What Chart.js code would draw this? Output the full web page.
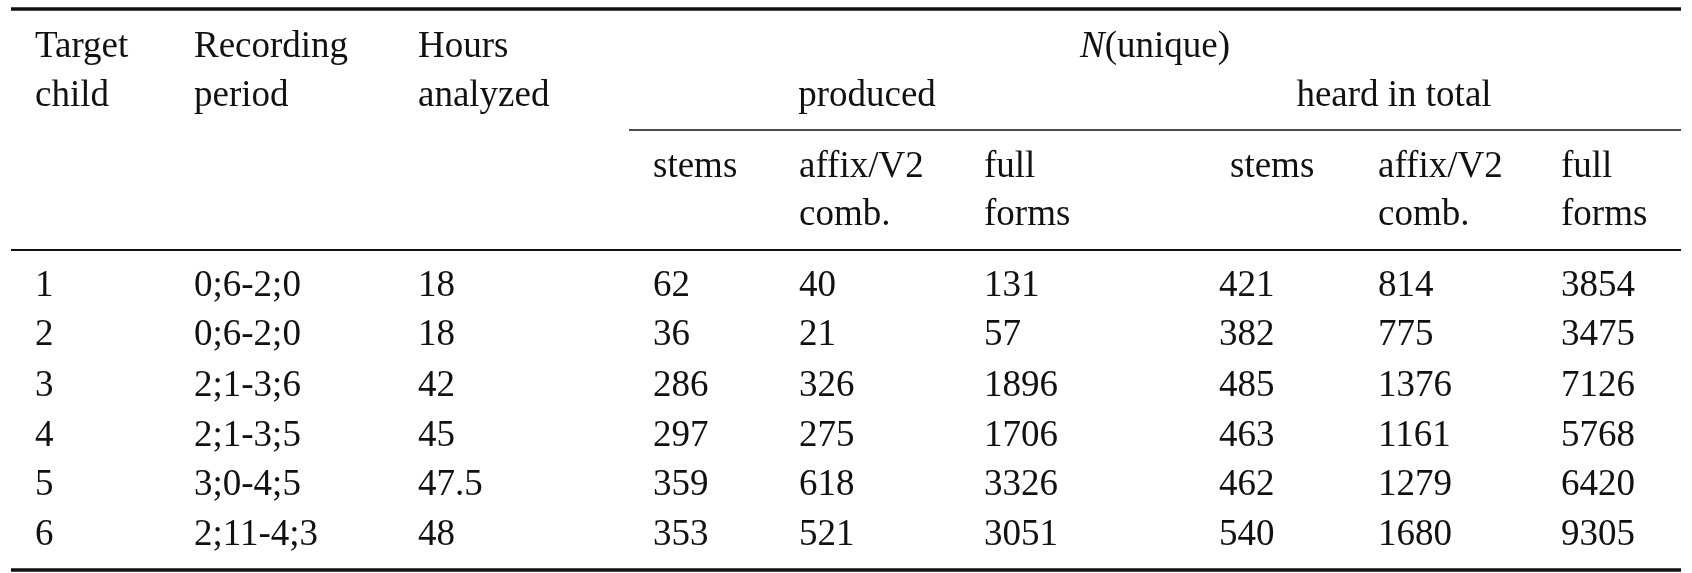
<!DOCTYPE html>
<html>
<head>
<meta charset="utf-8">
<script src="https://cdn.jsdelivr.net/npm/chart.js@4"></script>
<style>
  html, body { margin: 0; padding: 0; background: #fff; }
  #wrap { width: 1692px; height: 573px; }
</style>
</head>
<body>
<div id="wrap"><canvas id="tbl"></canvas></div>
<script>
// --- table data ---
const children = ['1', '2', '3', '4', '5', '6'];
const periods = ['0;6-2;0', '0;6-2;0', '2;1-3;6', '2;1-3;5', '3;0-4;5', '2;11-4;3'];
const hours = ['18', '18', '42', '45', '47.5', '48'];
const prodStems = [62, 36, 286, 297, 359, 353];
const prodAffix = [40, 21, 326, 275, 618, 521];
const prodFull = [131, 57, 1896, 1706, 3326, 3051];
const heardStems = [421, 382, 485, 463, 462, 540];
const heardAffix = [814, 775, 1376, 1161, 1279, 1680];
const heardFull = [3854, 3475, 7126, 5768, 6420, 9305];

// --- layout (pixel units of the hidden linear scales) ---
const colX = [35, 194, 418, 653, 799, 984, 1219, 1378, 1561];
const rowBase = [296, 345, 396, 446, 495, 545];
const FONT = '37px "Liberation Serif", "DejaVu Serif", serif';

const tablePlugin = {
  id: 'tableText',
  afterDraw(chart) {
    const ctx = chart.ctx;
    const sx = chart.scales.x, sy = chart.scales.y;
    const X = v => sx.getPixelForValue(v);
    const Y = v => sy.getPixelForValue(v);
    ctx.save();
    ctx.fillStyle = '#111';
    ctx.strokeStyle = '#111';
    ctx.font = FONT;
    ctx.textBaseline = 'alphabetic';

    const rule = (x1, x2, y, w) => {
      ctx.lineWidth = w;
      ctx.beginPath(); ctx.moveTo(X(x1), Y(y)); ctx.lineTo(X(x2), Y(y)); ctx.stroke();
    };
    const txt = (s, x, y, align) => { ctx.textAlign = align || 'left'; ctx.fillText(s, X(x), Y(y)); };

    rule(11, 1681, 9, 3.5);
    rule(629, 1681, 130, 1.5);
    rule(11, 1681, 250, 2);
    rule(11, 1681, 570, 3.5);

    // header
    txt('Target', colX[0], 57); txt('child', colX[0], 106);
    txt('Recording', colX[1], 57); txt('period', colX[1], 106);
    txt('Hours', colX[2], 57); txt('analyzed', colX[2], 106);
    ctx.font = 'italic ' + FONT;
    const nW = ctx.measureText('N').width;
    ctx.font = FONT;
    const uW = ctx.measureText('(unique)').width;
    const nx = X(1155) - (nW + uW) / 2;
    ctx.textAlign = 'left';
    ctx.font = 'italic ' + FONT; ctx.fillText('N', nx, Y(57));
    ctx.font = FONT; ctx.fillText('(unique)', nx + nW, Y(57));
    txt('produced', 867, 106, 'center');
    txt('heard in total', 1394, 106, 'center');

    const sub = [['stems'], ['affix/V2', 'comb.'], ['full', 'forms']];
    [3, 6].forEach((start, g) => {
      sub.forEach((lines, k) => {
        const x = colX[start + k] + (g === 1 && k === 0 ? 11 : 0);
        lines.forEach((l, li) => txt(l, x, 177 + li * 48));
      });
    });

    // body
    const cols = [children, periods, hours, prodStems, prodAffix, prodFull, heardStems, heardAffix, heardFull];
    cols.forEach((col, c) => {
      col.forEach((v, r) => txt(String(v), colX[c], rowBase[r]));
    });
    ctx.restore();
  }
};

new Chart(document.getElementById('tbl'), {
  type: 'scatter',
  data: { datasets: [{ data: [] }] },
  options: {
    responsive: true,
    maintainAspectRatio: false,
    animation: false,
    layout: { padding: 0 },
    plugins: { legend: { display: false }, tooltip: { enabled: false } },
    scales: {
      x: { type: 'linear', min: 0, max: 1692, display: false },
      y: { type: 'linear', min: 0, max: 573, reverse: true, display: false }
    }
  },
  plugins: [tablePlugin]
});
</script>
</body>
</html>
